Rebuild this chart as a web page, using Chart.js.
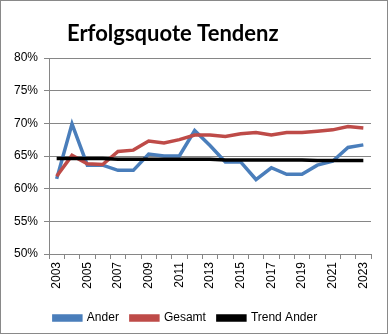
<!DOCTYPE html>
<html>
<head>
<meta charset="utf-8">
<script src="https://cdn.jsdelivr.net/npm/chart.js@4/dist/chart.umd.min.js"></script>
<style>
html,body{margin:0;padding:0;background:#fff;}
#wrap{width:389px;height:336px;position:relative;}
</style>
</head>
<body>
<div id="wrap"><canvas id="c" width="389" height="336"></canvas></div>
<script>
const years = ['2003','2004','2005','2006','2007','2008','2009','2010','2011','2012','2013','2014','2015','2016','2017','2018','2019','2020','2021','2022','2023'];
const ander = [61.5,69.9,63.6,63.6,62.8,62.8,65.3,65.0,65.0,68.9,66.6,64.1,64.1,61.4,63.2,62.2,62.2,63.6,64.2,66.3,66.7];
const gesamt = [61.9,65.1,63.8,63.7,65.7,65.9,67.3,67.0,67.5,68.2,68.2,68.0,68.4,68.6,68.2,68.6,68.6,68.8,69.0,69.5,69.3];
const trendAnder = [64.6,64.6,64.6,64.6,64.5,64.5,64.5,64.5,64.5,64.5,64.5,64.4,64.4,64.4,64.4,64.4,64.4,64.3,64.3,64.3,64.3];
const titleText = 'Erfolgsquote Tendenz';
const seriesNames = ['Ander','Gesamt','Trend Ander'];

const gridColor = '#868686';
const FONT = "'Liberation Sans', Arial, sans-serif";

const framePlugin = {
  id: 'frame',
  afterDraw(chart) {
    const ctx = chart.ctx;
    ctx.save();
    ctx.strokeStyle = '#898989';
    ctx.lineWidth = 1;
    ctx.strokeRect(0.5, 0.5, 387, 333);
    ctx.fillStyle = '#000';
    ctx.font = "bold 22px Lato, sans-serif";
    ctx.textBaseline = 'alphabetic';
    ctx.textAlign = 'left';
    ctx.fillText(titleText, 67, 41);
    ctx.restore();
  }
};

new Chart(document.getElementById('c'), {
  type: 'line',
  data: {
    labels: years,
    datasets: [
      {label: seriesNames[0], data: ander, borderColor: '#4a7ebb', backgroundColor: '#4a7ebb', borderWidth: 3.5, pointRadius: 0, tension: 0, order: 2},
      {label: seriesNames[1], data: gesamt, borderColor: '#be4b48', backgroundColor: '#be4b48', borderWidth: 3.5, pointRadius: 0, tension: 0, order: 1},
      {label: seriesNames[2], data: trendAnder, borderColor: '#000000', backgroundColor: '#000000', borderWidth: 3.5, pointRadius: 0, tension: 0, order: 0}
    ]
  },
  options: {
    responsive: false,
    animation: false,
    devicePixelRatio: 1,
    layout: {padding: {top: 58, left: 0, right: 18, bottom: 2}},
    plugins: {
      title: {display: false},
      tooltip: {enabled: false},
      legend: {
        display: true,
        position: 'bottom',
        labels: {
          boxWidth: 27,
          boxHeight: 4,
          padding: 12,
          color: '#000',
          font: {family: FONT, size: 12},
          sort: function(a, b) { return a.datasetIndex - b.datasetIndex; }
        }
      }
    },
    scales: {
      x: {
        type: 'category',
        offset: true,
        grid: {display: true, drawOnChartArea: false, drawTicks: true, tickLength: 5, color: gridColor, offset: true},
        border: {display: true, color: gridColor},
        ticks: {
          autoSkip: false,
          maxRotation: 90,
          minRotation: 90,
          padding: 3,
          color: '#000',
          font: {family: FONT, size: 12},
          callback: function(v, i) { return i % 2 === 0 ? years[i] : ''; }
        },
        afterFit: function(s) { s.height = 46; }
      },
      y: {
        min: 50,
        max: 80,
        ticks: {
          stepSize: 5,
          padding: 6,
          color: '#000',
          font: {family: FONT, size: 12},
          callback: function(v) { return v + '%'; }
        },
        grid: {color: gridColor, tickLength: 5, drawTicks: true},
        border: {display: true, color: gridColor},
        afterFit: function(s) { s.width = 49; }
      }
    }
  },
  plugins: [framePlugin]
});
</script>
</body>
</html>
